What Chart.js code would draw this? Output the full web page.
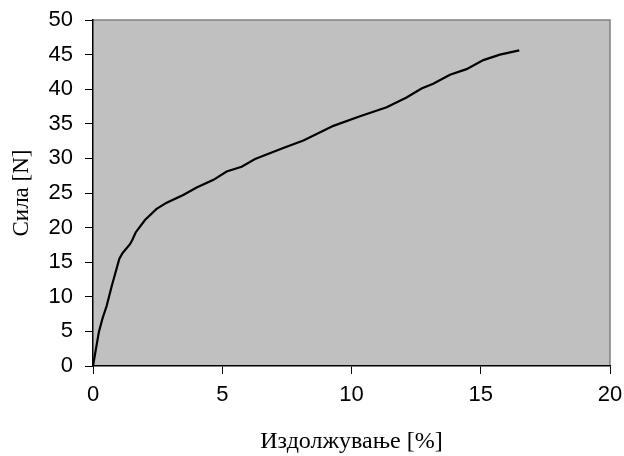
<!DOCTYPE html>
<html>
<head>
<meta charset="utf-8">
<script src="https://cdn.jsdelivr.net/npm/chart.js@4/dist/chart.umd.min.js"></script>
<style>
html,body{margin:0;padding:0;background:#fff;}
#wrap{width:624px;height:456px;}
</style>
</head>
<body>
<div id="wrap"><canvas id="c" width="624" height="456"></canvas></div>
<script>
const elongation = [0, 0.23, 0.37, 0.53, 0.72, 1.02, 1.14, 1.43, 1.52, 1.65, 2.01, 2.46, 2.85, 3.49, 4.01, 4.66, 5.17, 5.75, 6.27, 7.36, 8.14, 9.30, 10.33, 11.36, 12.13, 12.71, 13.16, 13.81, 14.45, 15.10, 15.74, 16.49];
const force = [0, 4.96, 6.9, 8.7, 11.5, 15.5, 16.3, 17.6, 18.2, 19.3, 21.1, 22.7, 23.6, 24.7, 25.8, 26.9, 28.1, 28.8, 29.9, 31.5, 32.6, 34.7, 36.1, 37.4, 38.8, 40.1, 40.8, 42.1, 42.9, 44.2, 45.0, 45.6];
const xTitle = 'Издолжување [%]';
const yTitle = 'Сила [N]';

const points = elongation.map((x, i) => ({x: x, y: force[i]}));

const plotBg = {
  id: 'plotBg',
  beforeDraw(chart) {
    const a = chart.chartArea, ctx = chart.ctx;
    ctx.save();
    ctx.fillStyle = '#C0C0C0';
    ctx.fillRect(a.left, a.top, a.right - a.left, a.bottom - a.top);
    ctx.strokeStyle = '#808080';
    ctx.lineWidth = 1.5;
    ctx.beginPath();
    ctx.moveTo(a.left, a.top);
    ctx.lineTo(a.right, a.top);
    ctx.lineTo(a.right, a.bottom);
    ctx.stroke();
    ctx.restore();
  }
};

new Chart(document.getElementById('c'), {
  type: 'scatter',
  data: {
    datasets: [{
      data: points,
      showLine: true,
      borderColor: '#000',
      borderWidth: 2.2,
      pointRadius: 0,
      tension: 0
    }]
  },
  options: {
    responsive: false,
    animation: false,
    devicePixelRatio: 1,
    layout: {padding: {top: 20, right: 14, left: 0, bottom: 0}},
    plugins: {legend: {display: false}, tooltip: {enabled: false}},
    scales: {
      x: {
        type: 'linear', min: 0, max: 20,
        ticks: {stepSize: 5, color: '#000', font: {family: 'Liberation Sans, Arial', size: 22}, padding: 8, maxRotation: 0},
        grid: {drawOnChartArea: false, tickLength: 8, color: '#000', lineWidth: 1},
        border: {color: '#000', width: 1.5},
        title: {display: true, text: xTitle, color: '#000', font: {family: 'Liberation Serif, Times New Roman', size: 24}, padding: {top: 0, bottom: 0}},
        afterFit(s) { s.height = 90; s.paddingLeft = 0; s.paddingRight = 0; }
      },
      y: {
        type: 'linear', min: 0, max: 50,
        ticks: {stepSize: 5, color: '#000', font: {family: 'Liberation Sans, Arial', size: 22}, padding: 12},
        grid: {drawOnChartArea: false, tickLength: 8, color: '#000', lineWidth: 1},
        border: {color: '#000', width: 1.5},
        title: {display: true, text: yTitle, color: '#000', font: {family: 'Liberation Serif, Times New Roman', size: 23}, padding: {top: 8, bottom: 0}},
        afterFit(s) { s.width = 93; s.paddingTop = 0; s.paddingBottom = 0; }
      }
    }
  },
  plugins: [plotBg]
});
</script>
</body>
</html>
